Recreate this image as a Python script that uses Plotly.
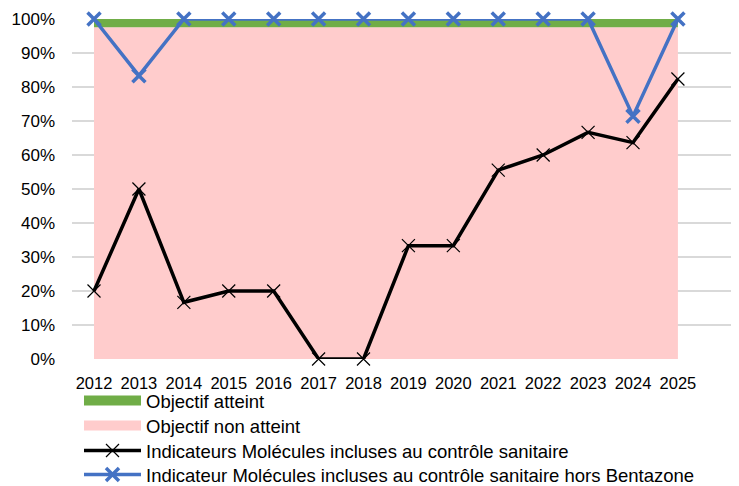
import plotly.graph_objects as go

years = list(range(2012, 2026))
tick_labels = [str(y) for y in years]
objectif_non_atteint = [0.976] * len(years)
objectif_atteint = [1.0] * len(years)
indic_total = [0.20, 0.50, 0.1667, 0.20, 0.20, 0.0, 0.0, 0.3333, 0.3333, 0.5556, 0.60, 0.6667, 0.6364, 0.8235]
indic_hors_bentazone = [1.0, 0.8333, 1.0, 1.0, 1.0, 1.0, 1.0, 1.0, 1.0, 1.0, 1.0, 1.0, 0.7143, 1.0]

GREEN = "#70AD47"
PINK = "#FFCCCC"
BLUE = "#4472C4"

W, H = 731, 478  # page has an 8px body offset

fig = go.Figure()
# filled areas (no legend; legend drawn by dummy traces)
fig.add_trace(go.Scatter(
    x=years, y=objectif_non_atteint, mode="lines", line=dict(width=0, color=PINK),
    fill="tozeroy", fillcolor=PINK, showlegend=False, hoverinfo="skip"))
fig.add_trace(go.Scatter(
    x=years, y=objectif_atteint, mode="lines", line=dict(width=0, color=GREEN),
    fill="tonexty", fillcolor=GREEN, showlegend=False, hoverinfo="skip"))
# legend entries for the areas
fig.add_trace(go.Scatter(
    x=[None], y=[None], name="Objectif atteint", mode="lines",
    line=dict(width=15, color=GREEN), legend="legend"))
fig.add_trace(go.Scatter(
    x=[None], y=[None], name="Objectif non atteint", mode="lines",
    line=dict(width=10, color=PINK), legend="legend2"))
fig.add_trace(go.Scatter(
    x=years, y=indic_total, name="Indicateurs Molécules incluses au contrôle sanitaire",
    mode="lines+markers", line=dict(width=3.5, color="black"),
    marker=dict(symbol="x-thin", size=13, line=dict(width=1.2, color="black"), color="black"),
    cliponaxis=False, legend="legend3"))
fig.add_trace(go.Scatter(
    x=years, y=indic_hors_bentazone, name="Indicateur Molécules incluses au contrôle sanitaire hors Bentazone",
    mode="lines+markers", line=dict(width=3.5, color=BLUE),
    marker=dict(symbol="x-thin", size=13, line=dict(width=3.5, color=BLUE), color=BLUE),
    cliponaxis=False, legend="legend4"))


def leg(center_y_page):
    return dict(xref="container", yref="container", x=71 / W,
                y=1 - (center_y_page - 8) / H, xanchor="left", yanchor="middle",
                bgcolor="rgba(0,0,0,0)", font=dict(size=18.5), itemwidth=57,
                borderwidth=0)


fig.update_layout(
    width=W, height=H,
    margin=dict(l=64, r=0, t=11, b=127, autoexpand=False),
    plot_bgcolor="white", paper_bgcolor="white",
    font=dict(family="Liberation Sans, Arial, sans-serif", size=16.5, color="black"),
    showlegend=True,
    legend=leg(401), legend2=leg(426), legend3=leg(451), legend4=leg(475),
)
fig.update_xaxes(
    range=[2011.51, 2026.36], tickmode="array", tickvals=years, ticktext=tick_labels,
    tickangle=0, showgrid=False, zeroline=False, showline=False, ticks="", ticklabelstandoff=12,
    tickfont=dict(size=16.5))
fig.update_yaxes(
    range=[0, 1], tickmode="array", tickvals=[i / 10 for i in range(11)],
    tickformat=".0%", showgrid=True, gridcolor="#D9D9D9", gridwidth=1.5,
    zeroline=False, showline=False, ticks="", ticklabelstandoff=16,
    tickfont=dict(size=17))

fig.write_html("out.html")
